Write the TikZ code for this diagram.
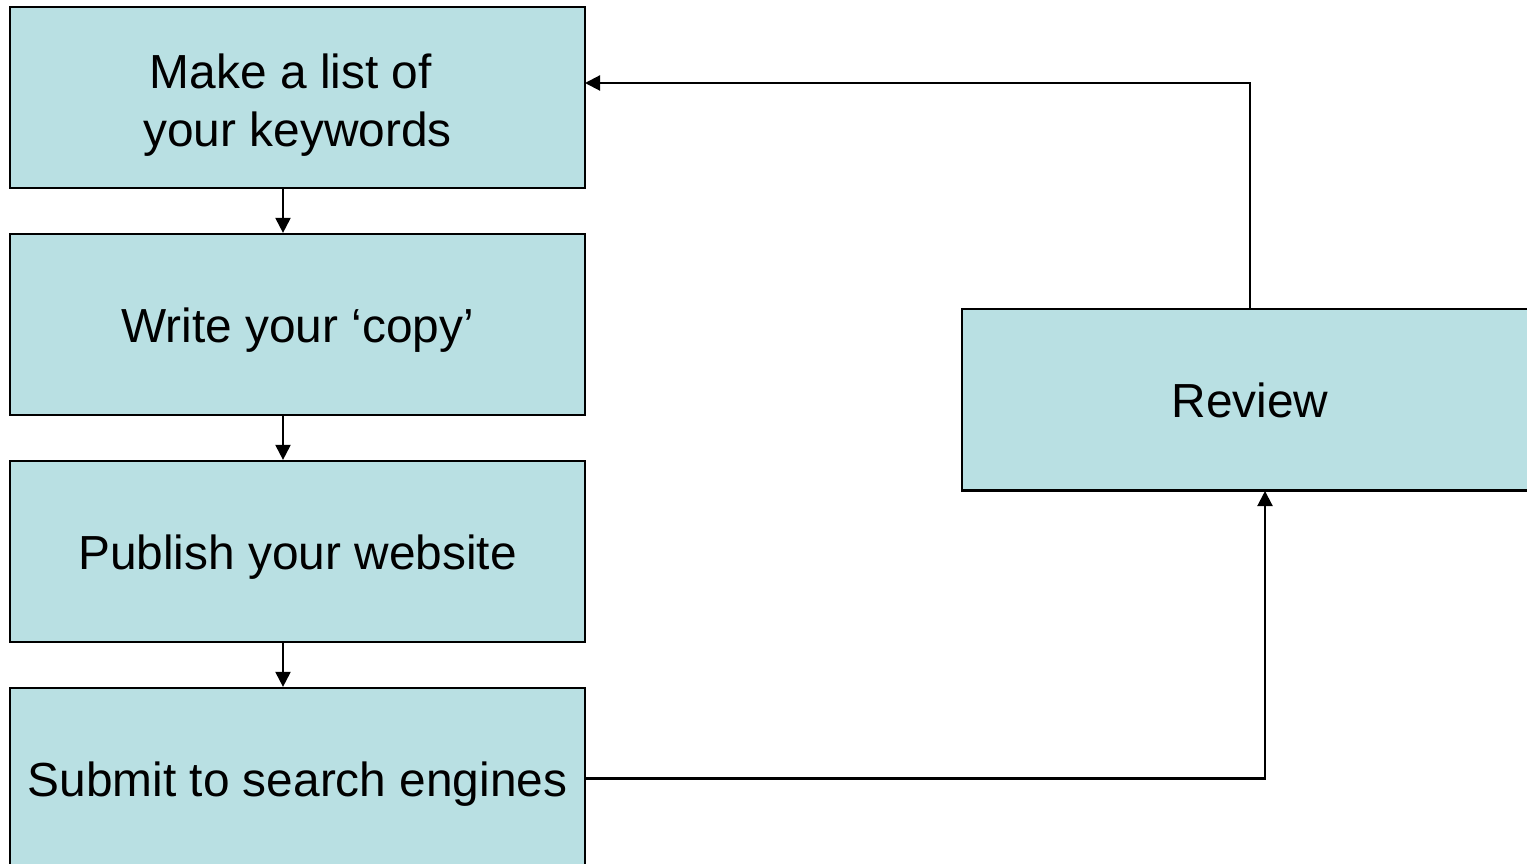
\documentclass[tikz,border=0pt]{standalone}
\usepackage{fontspec}
\setmainfont{Liberation Sans}
\usetikzlibrary{arrows.meta, positioning}
\definecolor{boxcyan}{RGB}{185, 224, 227}

\tikzset{
  stepbox/.style={draw=black, line width=0.6pt, fill=boxcyan,
    minimum width=5.75cm, minimum height=1.81cm, inner sep=0pt,
    text height=10pt, text depth=0pt,
    align=center, font=\fontsize{13.6}{16.5}\selectfont},
  flow/.style={line width=0.6pt, -{Triangle[length=4.3pt,width=4.3pt]}}
}

\begin{document}
\begin{tikzpicture}[x=0.01cm, y=-0.01cm]
        \useasboundingbox (0,0) rectangle (1527,864);
        % left column
        \node[stepbox, text height=27.6pt] (list) at (297.5,97.5) {Make a list of\kern0.28em\\your keywords};
        \node[stepbox] (copy) at (297.5,324.5) {Write your `copy'};
        \node[stepbox] (pub) at (297.5,551.5) {Publish your website};
        \node[stepbox] (sub) at (297.5,778.5) {Submit to search engines};
        % right side
        \node[stepbox, minimum width=5.76cm] (rev) at (1250,400) {Review};
        \coordinate (back) at (585,83);
        \coordinate (up) at (1265,491);
        \draw[flow] (list.south -| 283,0) -- (copy.north -| 283,0);
        \draw[flow] (copy.south -| 283,0) -- (pub.north -| 283,0);
        \draw[flow] (pub.south -| 283,0) -- (sub.north -| 283,0);
        \draw[flow] (sub.east) -| (up);
        \draw[flow] (rev.north) |- (back);
      \end{tikzpicture}
\end{document}
